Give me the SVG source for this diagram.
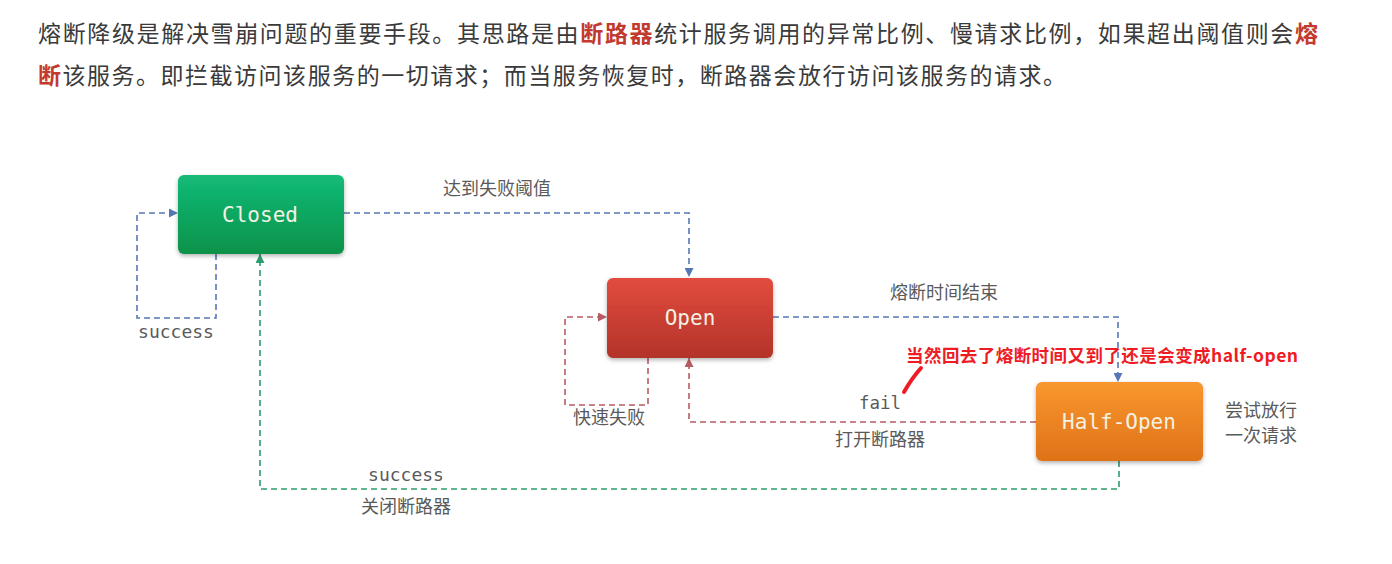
<svg xmlns="http://www.w3.org/2000/svg" width="1392" height="564" viewBox="0 0 1392 564">
<style>
.hdr{font-family:"Noto Sans CJK SC","Noto Sans",sans-serif;font-size:23px;fill:#3a3a3a}
.hl{fill:#c23a2e;font-weight:bold}
.lbl{font-family:"Noto Sans CJK SC","Noto Sans",sans-serif;font-size:18px;fill:#5a5a5a}
.mono{font-family:"DejaVu Sans Mono","Liberation Mono",monospace;fill:#5a5a5a}
.box{font-family:"DejaVu Sans Mono","Liberation Mono",monospace;font-size:21px;fill:#f3f1e2;text-anchor:middle}
.c{fill:none;stroke-width:1.6;stroke-dasharray:6 4}
.blue{stroke:#5577b5}
.red{stroke:#b85b62}
.green{stroke:#2e9c6c}
.note{font-family:"Noto Sans CJK SC","Noto Sans",sans-serif;font-size:17.5px;font-weight:bold;fill:#ee1c25}
</style>
<defs>
<linearGradient id="gG" x1="0" y1="0" x2="0" y2="1"><stop offset="0" stop-color="#13bb78"/><stop offset="1" stop-color="#089249"/></linearGradient>
<linearGradient id="gR" x1="0" y1="0" x2="0" y2="1"><stop offset="0" stop-color="#e24c3d"/><stop offset="1" stop-color="#b3332a"/></linearGradient>
<linearGradient id="gO" x1="0" y1="0" x2="0" y2="1"><stop offset="0" stop-color="#f9972e"/><stop offset="1" stop-color="#df7218"/></linearGradient>
<filter id="sh" x="-10%" y="-10%" width="120%" height="130%"><feDropShadow dx="0" dy="2" stdDeviation="2" flood-color="#000" flood-opacity="0.3"/></filter>
<marker id="aB" viewBox="0 0 10 10" refX="10" refY="5" markerWidth="9" markerHeight="9" markerUnits="userSpaceOnUse" orient="auto"><path d="M0,0 L10,5 L0,10 z" fill="#5577b5"/></marker>
<marker id="aR" viewBox="0 0 10 10" refX="10" refY="5" markerWidth="9" markerHeight="9" markerUnits="userSpaceOnUse" orient="auto"><path d="M0,0 L10,5 L0,10 z" fill="#b85b62"/></marker>
<marker id="aG" viewBox="0 0 10 10" refX="10" refY="5" markerWidth="9" markerHeight="9" markerUnits="userSpaceOnUse" orient="auto"><path d="M0,0 L10,5 L0,10 z" fill="#2e9c6c"/></marker>
</defs>
<rect width="1392" height="564" fill="#ffffff"/>
<g id="header">
<text class="hdr" x="38" y="42" textLength="1280" lengthAdjust="spacing">熔断降级是解决雪崩问题的重要手段。其思路是由<tspan class="hl">断路器</tspan>统计服务调用的异常比例、慢请求比例，如果超出阈值则会<tspan class="hl">熔</tspan></text>
<text class="hdr" x="38" y="84" textLength="1028" lengthAdjust="spacing"><tspan class="hl">断</tspan>该服务。即拦截访问该服务的一切请求；而当服务恢复时，断路器会放行访问该服务的请求。</text>
</g>
<g id="connectors">
<path class="c blue" d="M344,213 H689 V277" marker-end="url(#aB)"/>
<path class="c blue" d="M216,254 V318 H137 V213 H178" marker-end="url(#aB)"/>
<path class="c blue" d="M773,317 H1118 V382" marker-end="url(#aB)"/>
<path class="c red" d="M648,358 V405 H565 V317 H607" marker-end="url(#aR)"/>
<path class="c red" d="M1036,422 H689 V358" marker-end="url(#aR)"/>
<path class="c green" d="M1119,461 V489 H260 V254" marker-end="url(#aG)"/>
<text class="lbl" x="497" y="195" text-anchor="middle">达到失败阈值</text>
<text class="mono" x="176" y="338" font-size="18" text-anchor="middle">success</text>
<text class="lbl" x="944" y="299" text-anchor="middle">熔断时间结束</text>
<text class="lbl" x="609" y="424" text-anchor="middle">快速失败</text>
<text class="mono" x="880" y="409" font-size="17.5" text-anchor="middle">fail</text>
<text class="lbl" x="880" y="446" text-anchor="middle">打开断路器</text>
<text class="mono" x="406" y="481" font-size="18" text-anchor="middle">success</text>
<text class="lbl" x="406" y="513" text-anchor="middle">关闭断路器</text>
<text class="lbl" x="1261" y="417" font-size="17.5" text-anchor="middle">尝试放行</text>
<text class="lbl" x="1261" y="442" font-size="17.5" text-anchor="middle">一次请求</text>
</g>
<g id="closed">
<rect x="178" y="175" width="166" height="79" rx="6" fill="url(#gG)" filter="url(#sh)"/>
<text class="box" x="260" y="222">Closed</text>
</g>
<g id="open">
<rect x="607" y="278" width="166" height="80" rx="6" fill="url(#gR)" filter="url(#sh)"/>
<text class="box" x="690" y="325">Open</text>
</g>
<g id="half-open">
<rect x="1036" y="382" width="167" height="79" rx="6" fill="url(#gO)" filter="url(#sh)"/>
<text class="box" x="1119" y="429">Half-Open</text>
</g>
<g id="annotation">
<text class="note" x="906" y="362" textLength="392" lengthAdjust="spacing">当然回去了熔断时间又到了还是会变成half-open</text>
<path d="M921,368 Q912,378 904,392" fill="none" stroke="#ee1c25" stroke-width="4" stroke-linecap="round"/>
</g>
</svg>
